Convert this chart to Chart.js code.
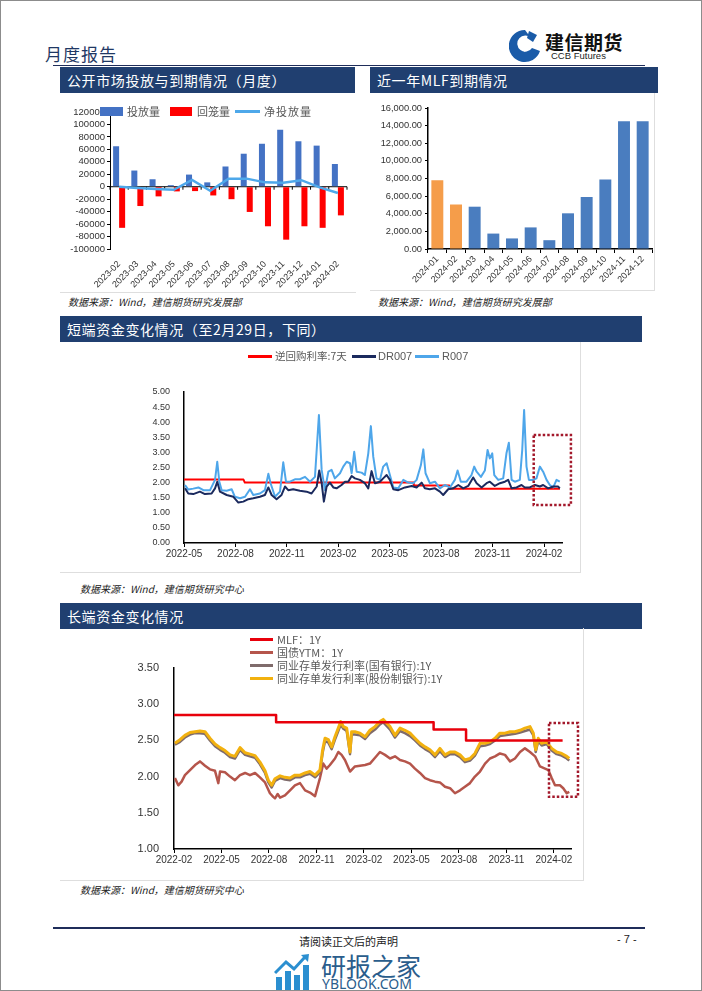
<!DOCTYPE html>
<html>
<head>
<meta charset="utf-8">
<script src="https://cdn.jsdelivr.net/npm/chart.js@4.4.1/dist/chart.umd.min.js"></script>
<style>
body { margin: 0; }
#page { position: relative; width: 702px; height: 991px; overflow: hidden; background: #fff; font-family: "Liberation Sans", "Noto Sans CJK SC", sans-serif; }
#frame { position: absolute; left: 0; top: 0; width: 702px; height: 991px; box-sizing: border-box; border: 1px solid #8c8c8c; pointer-events: none; }
.bar { position: absolute; height: 26px; background: #203f70; color: #fff; font-family: "Noto Sans CJK SC"; font-size: 14px; line-height: 26px; padding-left: 7px; box-sizing: border-box; letter-spacing: 0.6px; }
.src { position: absolute; font-family: "Noto Sans CJK SC"; font-size: 10px; font-style: italic; color: #222; white-space: nowrap; }
.box { position: absolute; border-right: 1px solid #dedede; border-bottom: 1px solid #dedede; box-sizing: border-box; }
canvas { position: absolute; }
.lg { position: absolute; font-family: "Noto Sans CJK SC"; font-size: 10.5px; color: #595959; white-space: nowrap; line-height: 12px; }
.sw { position: absolute; }
</style>
</head>
<body>
<div id="page">

  <!-- header -->
  <div style="position:absolute;left:45px;top:41px;font-family:'Noto Sans CJK SC';font-size:17px;color:#1f3864;letter-spacing:1px;">月度报告</div>
  <svg style="position:absolute;left:509px;top:29px" width="32" height="34" viewBox="0 0 32 34">
    <path d="M16 1 A16 16 0 1 0 31 22 L23 19 A8 8 0 1 1 22 9 Z" fill="#1a5ba8"/>
    <rect x="11" y="12" width="9" height="9" fill="#fff" transform="rotate(45 15.5 16.5)"/>
    <path d="M20 2 L28 6 L24 13 L18 9 Z" fill="#1a5ba8"/>
  </svg>
  <div style="position:absolute;left:545px;top:28px;font-family:'Noto Sans CJK SC';font-weight:bold;font-size:19px;color:#111;letter-spacing:0.5px;">建信期货</div>
  <div style="position:absolute;left:551px;top:50px;font-size:9.5px;color:#222;">CCB Futures</div>
  <div style="position:absolute;left:53px;top:65px;width:592px;height:1px;background:#1f2d5a;"></div>

  <!-- section bars -->
  <div class="bar" style="left:60px;top:67px;width:295px;">公开市场投放与到期情况（月度）</div>
  <div class="bar" style="left:370px;top:67px;width:288px;">近一年MLF到期情况</div>
  <div class="bar" style="left:60px;top:316px;width:582px;">短端资金变化情况（至2月29日，下同）</div>
  <div class="bar" style="left:60px;top:603px;width:582px;">长端资金变化情况</div>

  <!-- chart boxes -->
  <div class="box" style="left:60px;top:93px;width:296px;height:200px;border-right:none;"></div>
  <div class="box" style="left:370px;top:93px;width:285px;height:198px;"></div>
  <div class="box" style="left:60px;top:342px;width:521px;height:231px;"></div>
  <div class="box" style="left:60px;top:628px;width:524px;height:253px;"></div>

  <canvas id="c1" width="295" height="198" style="left:60px;top:95px;"></canvas>
  <canvas id="c2" width="283" height="195" style="left:370px;top:95px;"></canvas>
  <canvas id="c3" width="520" height="225" style="left:60px;top:345px;"></canvas>
  <canvas id="c4" width="523" height="245" style="left:60px;top:630px;"></canvas>

  <!-- legend chart 1 -->
  <div class="sw" style="left:100px;top:107px;width:23px;height:9px;background:#4472c4;"></div>
  <div class="lg" style="left:127px;top:105px;font-size:11px;">投放量</div>
  <div class="sw" style="left:170px;top:107px;width:22px;height:9px;background:#ff0000;"></div>
  <div class="lg" style="left:197px;top:105px;font-size:11px;">回笼量</div>
  <div class="sw" style="left:235px;top:110px;width:25px;height:3px;background:#4ea8ea;"></div>
  <div class="lg" style="left:264px;top:105px;font-size:11px;letter-spacing:1px;">净投放量</div>

  <!-- legend chart 3 -->
  <div class="sw" style="left:248px;top:355px;width:24px;height:3px;background:#ff0000;"></div>
  <div class="lg" style="left:275px;top:350px;">逆回购利率:7天</div>
  <div class="sw" style="left:352px;top:355px;width:24px;height:3px;background:#1b2a5e;"></div>
  <div class="lg" style="left:378px;top:350px;font-family:'Liberation Sans';font-size:11px;">DR007</div>
  <div class="sw" style="left:415px;top:355px;width:24px;height:3px;background:#4ea6ea;"></div>
  <div class="lg" style="left:442px;top:350px;font-family:'Liberation Sans';font-size:11px;">R007</div>

  <!-- legend chart 4 -->
  <div class="sw" style="left:250px;top:638px;width:23px;height:3px;background:#e8000b;"></div>
  <div class="lg" style="left:277px;top:633px;font-size:11px;">MLF：1Y</div>
  <div class="sw" style="left:250px;top:651px;width:23px;height:3px;background:#b5554b;"></div>
  <div class="lg" style="left:277px;top:646px;font-size:11px;">国债YTM：1Y</div>
  <div class="sw" style="left:250px;top:664px;width:23px;height:3px;background:#7f6b6b;"></div>
  <div class="lg" style="left:277px;top:659px;font-size:11px;">同业存单发行利率(国有银行):1Y</div>
  <div class="sw" style="left:250px;top:677px;width:23px;height:3px;background:#f2b10f;"></div>
  <div class="lg" style="left:277px;top:672px;font-size:11px;">同业存单发行利率(股份制银行):1Y</div>

  <!-- sources -->
  <div class="src" style="left:68px;top:294px;">数据来源：Wind，建信期货研究发展部</div>
  <div class="src" style="left:378px;top:294px;">数据来源：Wind，建信期货研究发展部</div>
  <div class="src" style="left:80px;top:581px;">数据来源：Wind，建信期货研究中心</div>
  <div class="src" style="left:80px;top:882px;">数据来源：Wind，建信期货研究中心</div>

  <!-- footer -->
  <div style="position:absolute;left:53px;top:927px;width:592px;height:2px;background:#1f2d5a;"></div>
  <div style="position:absolute;left:299px;top:933px;font-family:'Noto Sans CJK SC';font-size:11px;color:#222;">请阅读正文后的声明</div>
  <div style="position:absolute;left:617px;top:933px;font-size:11px;color:#222;">- 7 -</div>

  <!-- watermark -->
  <svg style="position:absolute;left:274px;top:953px" width="38" height="38" viewBox="0 0 38 38">
    <rect x="2" y="24" width="6" height="14" fill="#2b8fd0"/>
    <rect x="11" y="18" width="6" height="20" fill="#2b8fd0"/>
    <rect x="20" y="22" width="6" height="16" fill="#2b8fd0"/>
    <rect x="29" y="12" width="6" height="26" fill="#2b8fd0"/>
    <path d="M1 20 L12 9 L20 16 L31 4" stroke="#2b8fd0" stroke-width="3" fill="none"/>
    <path d="M27 2 L35 1 L34 9 Z" fill="#2b8fd0"/>
  </svg>
  <div style="position:absolute;left:321px;top:953px;font-family:'Noto Sans CJK SC';font-size:25px;line-height:25px;color:#2a5d8c;">研报之家</div>
  <div style="position:absolute;left:322px;top:977px;font-family:'Noto Sans';font-size:14px;line-height:14px;color:#2a5d8c;">YBLOOK.COM</div>

  <div id="frame"></div>
</div>

<script>
// ---------- chart 1: 公开市场投放与到期 (亿元) ----------
const c1Months = ['2023-02','2023-03','2023-04','2023-05','2023-06','2023-07','2023-08','2023-09','2023-10','2023-11','2023-12','2024-01','2024-02'];
const c1Put  = [65000, 26000, 12000, 2500, 19500, 7000, 32500, 53000, 69000, 91500, 73000, 66000, 36500];
const c1Back = [-66000, -31000, -15500, -7500, -7000, -14000, -20000, -40500, -63500, -85000, -63500, -66000, -46000];
const c1Net  = [0, -2000, -3500, -5000, 11000, -6500, 13000, 13000, 7000, 6500, 10500, -1000, -10000];

// ---------- chart 2: 近一年MLF到期 ----------
const c2Months = ['2024-01','2024-02','2024-03','2024-04','2024-05','2024-06','2024-07','2024-08','2024-09','2024-10','2024-11','2024-12'];
const c2Mlf = [7800, 5050, 4800, 1750, 1200, 2450, 1000, 4050, 5900, 7900, 14500, 14500];
const c2Colors = ['#f59d4a','#f59d4a','#4a7dbf','#4a7dbf','#4a7dbf','#4a7dbf','#4a7dbf','#4a7dbf','#4a7dbf','#4a7dbf','#4a7dbf','#4a7dbf'];

// ---------- chart 3: 短端 (x = months after 2022-05) ----------
const c3Start = { y: 2022, m: 5 };
const c3Repo7 = [[0,2.10],[3.47,2.10],[3.55,2.00],[13.4,2.00],[13.4,1.90],[15.47,1.90],[15.47,1.80],[21.93,1.80]];
const c3Dr007 = [[0.06,1.81],[0.25,1.64],[0.54,1.62],[0.93,1.70],[1.22,1.62],[1.61,1.64],[1.81,1.81],[1.94,2.03],[2.10,1.70],[2.49,1.59],[2.88,1.53],[3.17,1.34],[3.46,1.37],[3.75,1.45],[4.04,1.48],[4.43,1.53],[4.72,1.59],[4.92,1.84],[5.11,1.59],[5.40,1.45],[5.69,1.59],[5.89,1.87],[6.08,1.75],[6.37,1.78],[6.76,1.73],[7.15,1.70],[7.44,1.64],[7.74,1.87],[7.89,2.40],[8.03,1.98],[8.16,1.37],[8.32,1.87],[8.51,2.00],[8.71,1.84],[8.90,1.81],[9.19,1.92],[9.39,2.03],[9.58,2.03],[9.78,2.22],[9.97,2.14],[10.26,2.09],[10.55,1.98],[10.75,1.81],[10.94,2.38],[11.14,1.98],[11.43,2.03],[11.62,2.14],[11.82,2.25],[12.01,2.09],[12.21,1.78],[12.50,1.75],[12.89,1.84],[13.28,1.89],[13.57,1.84],[13.86,2.00],[14.05,1.81],[14.34,1.78],[14.64,1.81],[14.93,1.70],[15.12,1.59],[15.41,1.78],[15.70,1.81],[16.00,1.92],[16.29,1.81],[16.58,1.89],[16.87,2.17],[17.07,1.98],[17.36,1.84],[17.65,1.98],[17.84,2.03],[18.13,1.89],[18.43,1.98],[18.72,2.03],[18.91,2.09],[19.11,1.81],[19.40,1.84],[19.69,1.92],[19.88,1.84],[20.17,1.84],[20.47,1.92],[20.76,1.87],[20.95,1.92],[21.24,1.81],[21.54,1.87],[21.83,1.87],[21.92,1.81]];
const c3R007 = [[0.06,1.92],[0.25,1.77],[0.54,1.80],[0.84,1.84],[1.13,1.75],[1.52,1.75],[1.81,2.09],[1.94,2.69],[2.06,2.03],[2.20,1.75],[2.49,1.73],[2.78,1.78],[2.97,1.53],[3.27,1.48],[3.56,1.53],[3.85,1.78],[4.04,1.59],[4.43,1.64],[4.72,1.75],[4.92,2.29],[5.05,1.98],[5.31,1.53],[5.60,1.70],[5.79,2.67],[5.95,2.03],[6.18,2.03],[6.47,2.11],[6.76,2.11],[7.06,2.19],[7.35,2.03],[7.64,2.19],[7.87,4.24],[8.03,2.42],[8.22,1.75],[8.42,2.36],[8.61,2.42],[8.80,2.14],[9.10,2.31],[9.29,2.53],[9.49,2.69],[9.68,2.64],[9.78,2.31],[9.93,3.02],[10.07,2.36],[10.36,2.33],[10.55,2.25],[10.75,2.97],[10.90,3.87],[11.04,2.86],[11.23,2.14],[11.43,2.09],[11.62,2.53],[11.82,2.64],[12.01,2.25],[12.21,1.84],[12.50,1.81],[12.79,2.09],[13.08,2.00],[13.37,1.98],[13.57,2.09],[13.82,2.58],[13.96,3.10],[14.09,2.31],[14.34,1.98],[14.64,2.03],[14.93,1.81],[15.22,1.92],[15.51,1.84],[15.80,2.09],[15.96,2.40],[16.15,2.03],[16.48,2.03],[16.77,2.25],[16.93,2.53],[17.07,2.36],[17.32,2.19],[17.55,2.40],[17.71,3.08],[17.84,2.80],[17.98,2.97],[18.10,2.25],[18.33,2.09],[18.62,2.14],[18.81,2.97],[18.95,3.32],[19.11,2.09],[19.30,2.03],[19.59,2.09],[19.73,3.08],[19.84,4.40],[19.98,2.53],[20.12,2.09],[20.37,2.09],[20.56,2.14],[20.76,2.53],[20.95,2.36],[21.15,2.09],[21.34,1.92],[21.54,1.84],[21.73,2.09],[21.92,2.03]];
const c3Box = { x0: 20.4, x1: 22.57, y0: 1.26, y1: 3.58 };

// ---------- chart 4: 长端 (x = months after 2022-02) ----------
const c4Start = { y: 2022, m: 2 };
const c4Mlf = [[0,2.85],[6.45,2.85],[6.45,2.75],[16.4,2.75],[16.4,2.65],[18.45,2.65],[18.45,2.50],[24.55,2.50]];
const c4Ytm = [[0.06,1.98],[0.27,1.88],[0.48,1.93],[0.69,2.02],[1.01,2.09],[1.33,2.16],[1.64,2.21],[1.96,2.15],[2.27,2.10],[2.59,2.08],[2.80,1.91],[2.91,2.07],[3.22,2.06],[3.54,2.00],[3.85,1.95],[4.17,2.02],[4.49,2.05],[4.80,2.02],[5.12,2.05],[5.43,1.99],[5.75,1.92],[6.06,1.77],[6.27,1.72],[6.38,1.70],[6.55,1.76],[6.70,1.71],[7.01,1.74],[7.33,1.81],[7.64,1.88],[7.96,1.91],[8.28,1.81],[8.59,1.78],[8.91,1.73],[9.22,1.98],[9.43,2.18],[9.64,2.11],[9.85,2.16],[10.17,2.25],[10.38,2.34],[10.59,2.30],[10.80,2.23],[11.12,2.07],[11.43,2.14],[11.75,2.15],[12.07,2.16],[12.38,2.18],[12.70,2.26],[13.01,2.34],[13.33,2.30],[13.65,2.25],[13.96,2.28],[14.28,2.23],[14.59,2.21],[14.91,2.18],[15.22,2.11],[15.54,2.05],[15.86,1.98],[16.17,1.95],[16.49,1.93],[16.80,1.92],[17.12,1.86],[17.44,1.84],[17.75,1.77],[18.07,1.81],[18.38,1.86],[18.70,1.91],[19.01,2.00],[19.33,2.07],[19.65,2.18],[19.96,2.25],[20.28,2.28],[20.59,2.32],[20.91,2.30],[21.23,2.21],[21.54,2.25],[21.86,2.34],[22.17,2.39],[22.49,2.34],[22.81,2.28],[23.12,2.14],[23.44,2.11],[23.65,2.09],[23.86,1.98],[24.07,1.88],[24.38,1.88],[24.59,1.84],[24.81,1.77],[24.97,1.79]];
const c4Big = [[0.06,2.44],[0.38,2.48],[0.69,2.54],[1.01,2.58],[1.33,2.60],[1.64,2.60],[1.96,2.59],[2.27,2.50],[2.59,2.42],[2.91,2.37],[3.22,2.33],[3.54,2.27],[3.85,2.25],[4.17,2.37],[4.49,2.30],[4.80,2.28],[5.12,2.26],[5.43,2.17],[5.75,2.05],[5.96,1.92],[6.17,1.85],[6.38,1.94],[6.70,1.98],[7.01,1.96],[7.33,1.95],[7.64,1.99],[7.96,1.99],[8.28,2.02],[8.59,2.04],[8.91,1.99],[9.22,2.06],[9.39,2.33],[9.54,2.49],[9.75,2.47],[9.96,2.38],[10.17,2.51],[10.38,2.63],[10.53,2.72],[10.70,2.66],[10.91,2.63],[11.12,2.31],[11.22,2.58],[11.43,2.58],[11.75,2.57],[12.07,2.52],[12.38,2.60],[12.70,2.65],[13.01,2.72],[13.22,2.75],[13.43,2.70],[13.65,2.65],[13.96,2.54],[14.28,2.63],[14.59,2.60],[14.91,2.56],[15.22,2.50],[15.54,2.43],[15.86,2.38],[16.17,2.34],[16.49,2.27],[16.80,2.35],[17.12,2.27],[17.44,2.31],[17.75,2.31],[18.07,2.27],[18.38,2.20],[18.70,2.22],[19.01,2.29],[19.33,2.42],[19.65,2.43],[19.96,2.45],[20.28,2.50],[20.59,2.56],[20.91,2.57],[21.23,2.58],[21.54,2.59],[21.86,2.61],[22.17,2.63],[22.49,2.65],[22.70,2.57],[22.85,2.34],[23.01,2.49],[23.23,2.43],[23.54,2.45],[23.86,2.36],[24.17,2.31],[24.49,2.29],[24.81,2.25],[24.97,2.22]];
const c4Joint = [[0.06,2.46],[0.38,2.51],[0.69,2.57],[1.01,2.61],[1.33,2.62],[1.64,2.63],[1.96,2.62],[2.27,2.53],[2.59,2.45],[2.91,2.40],[3.22,2.36],[3.54,2.30],[3.85,2.28],[4.17,2.40],[4.49,2.33],[4.80,2.31],[5.12,2.29],[5.43,2.20],[5.75,2.08],[5.96,1.95],[6.17,1.88],[6.38,1.97],[6.70,2.01],[7.01,1.99],[7.33,1.98],[7.64,2.02],[7.96,2.02],[8.28,2.05],[8.59,2.07],[8.91,2.02],[9.22,2.09],[9.39,2.37],[9.54,2.53],[9.75,2.51],[9.96,2.41],[10.17,2.55],[10.38,2.67],[10.53,2.76],[10.70,2.69],[10.91,2.67],[11.12,2.34],[11.22,2.62],[11.43,2.62],[11.75,2.60],[12.07,2.55],[12.38,2.64],[12.70,2.69],[13.01,2.76],[13.22,2.79],[13.43,2.74],[13.65,2.69],[13.96,2.57],[14.28,2.67],[14.59,2.64],[14.91,2.60],[15.22,2.53],[15.54,2.46],[15.86,2.41],[16.17,2.37],[16.49,2.30],[16.80,2.39],[17.12,2.30],[17.44,2.34],[17.75,2.34],[18.07,2.30],[18.38,2.23],[18.70,2.25],[19.01,2.32],[19.33,2.46],[19.65,2.46],[19.96,2.48],[20.28,2.53],[20.59,2.60],[20.91,2.60],[21.23,2.62],[21.54,2.62],[21.86,2.64],[22.17,2.67],[22.49,2.69],[22.70,2.60],[22.85,2.37],[23.01,2.53],[23.23,2.46],[23.54,2.48],[23.86,2.39],[24.17,2.34],[24.49,2.32],[24.81,2.28],[24.97,2.25]];
const c4Box = { x0: 23.69, x1: 25.52, y0: 1.72, y1: 2.74 };

Chart.defaults.font.family = "'Liberation Sans', 'Noto Sans CJK SC', sans-serif";
Chart.defaults.color = '#333';

// label for "months after start"
function monthLabel(start, off) {
  const total = start.y * 12 + (start.m - 1) + Math.round(off);
  return Math.floor(total / 12) + '-' + String(total % 12 + 1).padStart(2, '0');
}

// horizontal axis line at 0 with small ticks (chart 1)
const zeroLine = {
  id: 'zeroLine',
  beforeDatasetsDraw(chart) {
    const { ctx, chartArea, scales } = chart;
    const y0 = scales.y.getPixelForValue(0);
    const half = (scales.x.getPixelForValue(1) - scales.x.getPixelForValue(0)) / 2;
    ctx.save();
    ctx.strokeStyle = '#000';
    ctx.lineWidth = 1;
    ctx.beginPath();
    ctx.moveTo(chartArea.left, y0);
    ctx.lineTo(chartArea.right, y0);
    for (let i = 0; i <= c1Months.length; i++) {
      const px = scales.x.getPixelForValue(i) - half;
      ctx.moveTo(px, y0);
      ctx.lineTo(px, y0 + 3);
    }
    ctx.stroke();
    ctx.restore();
  }
};

// dotted highlight box, in data units
const dottedBox = {
  id: 'dottedBox',
  afterDraw(chart, args, opts) {
    const { ctx, scales } = chart;
    const x0 = scales.x.getPixelForValue(opts.x0), x1 = scales.x.getPixelForValue(opts.x1);
    const y0 = scales.y.getPixelForValue(opts.y0), y1 = scales.y.getPixelForValue(opts.y1);
    ctx.save();
    ctx.strokeStyle = '#a3182b';
    ctx.lineWidth = 2.5;
    ctx.setLineDash([2.5, 2]);
    ctx.strokeRect(x0, y1, x1 - x0, y0 - y1);
    ctx.restore();
  }
};

const noLegend = { legend: { display: false }, tooltip: { enabled: false } };

// chart 1
new Chart(document.getElementById('c1'), {
  type: 'bar',
  data: {
    labels: c1Months,
    datasets: [
      { type: 'line', label: '净投放量', data: c1Net, borderColor: '#4ea8ea', borderWidth: 2.5, pointRadius: 0, tension: 0, order: 0 },
      { label: '投放量', data: c1Put, backgroundColor: '#4472c4', categoryPercentage: 0.66, barPercentage: 1, order: 1 },
      { label: '回笼量', data: c1Back, backgroundColor: '#ff0000', categoryPercentage: 0.66, barPercentage: 1, order: 1 }
    ]
  },
  options: {
    responsive: false, animation: false,
    layout: { padding: { left: 0, right: 8, top: 17, bottom: 0 } },
    plugins: noLegend,
    scales: {
      x: {
        grid: { display: false }, border: { display: false },
        ticks: { minRotation: 45, maxRotation: 45, autoSkip: false, font: { size: 9 }, padding: 2 },
        afterFit: s => { s.height = 44; }
      },
      y: {
        min: -100000, max: 120000,
        ticks: { stepSize: 20000, autoSkip: false, callback: v => String(v), font: { size: 9.5 }, padding: 2 },
        grid: { drawOnChartArea: false, tickLength: 3, color: '#000' },
        border: { color: '#000' },
        afterFit: s => { s.width = 50; }
      }
    }
  },
  plugins: [zeroLine]
});

// chart 2
new Chart(document.getElementById('c2'), {
  type: 'bar',
  data: {
    labels: c2Months,
    datasets: [{ data: c2Mlf, backgroundColor: c2Colors, categoryPercentage: 0.8, barPercentage: 0.8 }]
  },
  options: {
    responsive: false, animation: false,
    layout: { padding: { left: 0, right: 1, top: 13, bottom: 0 } },
    plugins: noLegend,
    scales: {
      x: {
        grid: { drawOnChartArea: false, tickLength: 4, color: '#000' },
        border: { color: '#000', width: 1.5 },
        ticks: { minRotation: 45, maxRotation: 45, autoSkip: false, font: { size: 9 }, padding: 1 },
        afterFit: s => { s.height = 41; }
      },
      y: {
        min: 0, max: 16000,
        ticks: { stepSize: 2000, autoSkip: false, font: { size: 9.3 }, padding: 3,
          callback: v => v.toLocaleString('en-US', { minimumFractionDigits: 2, maximumFractionDigits: 2 }) },
        grid: { drawOnChartArea: false, tickLength: 3, color: '#000' },
        border: { color: '#000', width: 1.5 },
        afterFit: s => { s.width = 58; }
      }
    }
  }
});

// chart 3
new Chart(document.getElementById('c3'), {
  type: 'line',
  data: {
    datasets: [
      { label: 'DR007', data: c3Dr007, borderColor: '#1b2a5e', borderWidth: 2, order: 0 },
      { label: 'R007', data: c3R007, borderColor: '#4ea6ea', borderWidth: 2, order: 1 },
      { label: '逆回购利率:7天', data: c3Repo7, borderColor: '#ff0000', borderWidth: 2, order: 2 }
    ]
  },
  options: {
    responsive: false, animation: false,
    elements: { point: { radius: 0 }, line: { tension: 0, borderJoinStyle: 'round' } },
    layout: { padding: { left: 74, right: 18, top: 47, bottom: 0 } },
    plugins: Object.assign({ dottedBox: c3Box }, noLegend),
    scales: {
      x: {
        type: 'linear', min: 0, max: 22.05,
        grid: { drawOnChartArea: false, tickLength: 4, color: '#000' },
        border: { color: '#000', width: 1.5 },
        ticks: { stepSize: 3, includeBounds: false, maxRotation: 0, font: { size: 10 }, padding: 1,
          callback: v => monthLabel(c3Start, v) },
        afterFit: s => { s.height = 27; }
      },
      y: {
        min: 0, max: 5,
        grid: { display: false },
        border: { color: '#000', width: 1.5 },
        ticks: { stepSize: 0.5, autoSkip: false, font: { size: 9 }, padding: 6, callback: v => v.toFixed(2) },
        afterFit: s => { s.width = 50; }
      }
    }
  },
  plugins: [dottedBox]
});

// chart 4
new Chart(document.getElementById('c4'), {
  type: 'line',
  data: {
    datasets: [
      { label: 'MLF：1Y', data: c4Mlf, borderColor: '#e8000b', borderWidth: 2.5, order: 0 },
      { label: '同业存单发行利率(股份制银行):1Y', data: c4Joint, borderColor: '#f2b10f', borderWidth: 3, order: 1 },
      { label: '同业存单发行利率(国有银行):1Y', data: c4Big, borderColor: '#7f6b6b', borderWidth: 2.5, order: 2 },
      { label: '国债YTM：1Y', data: c4Ytm, borderColor: '#b5554b', borderWidth: 2.5, order: 3 }
    ]
  },
  options: {
    responsive: false, animation: false,
    elements: { point: { radius: 0 }, line: { tension: 0, borderJoinStyle: 'round' } },
    layout: { padding: { left: 64, right: 12, top: 38, bottom: 0 } },
    plugins: Object.assign({ dottedBox: c4Box }, noLegend),
    scales: {
      x: {
        type: 'linear', min: 0, max: 25.08,
        grid: { drawOnChartArea: false, tickLength: 4, color: '#000' },
        border: { color: '#000', width: 1.5 },
        ticks: { stepSize: 3, includeBounds: false, maxRotation: 0, font: { size: 10 }, padding: 1,
          callback: v => monthLabel(c4Start, v) },
        afterFit: s => { s.height = 26; }
      },
      y: {
        min: 1, max: 3.5,
        grid: { display: false },
        border: { color: '#000', width: 1.5 },
        ticks: { stepSize: 0.5, autoSkip: false, font: { size: 11 }, padding: 7, callback: v => v.toFixed(2) },
        afterFit: s => { s.width = 50; }
      }
    }
  },
  plugins: [dottedBox]
});
</script>
</body>
</html>
